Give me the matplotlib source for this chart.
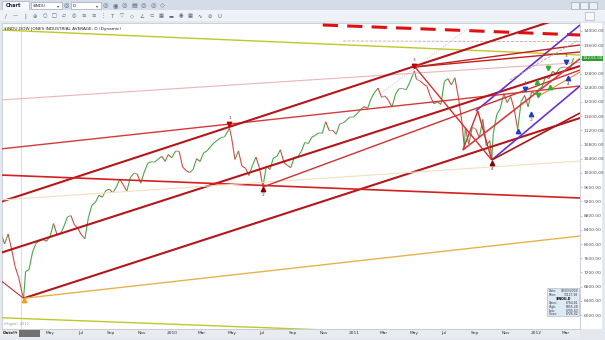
import datetime as dt
import matplotlib
matplotlib.use('Agg')
import matplotlib.pyplot as plt
import matplotlib.dates as mdates
from matplotlib.collections import LineCollection
from matplotlib.patches import Rectangle
import numpy as np
import pandas as pd

# weekly prices of $INDU (pivots use the bar extremes)
dates = [
    '2009-01-23', '2009-01-30', '2009-02-06', '2009-02-13', '2009-02-20', '2009-02-27', '2009-03-06',
    '2009-03-09', '2009-03-13', '2009-03-20', '2009-03-27', '2009-04-03', '2009-04-09', '2009-04-17',
    '2009-04-24', '2009-05-01', '2009-05-08', '2009-05-15', '2009-05-22', '2009-05-29', '2009-06-05',
    '2009-06-12', '2009-06-19', '2009-06-26', '2009-07-02', '2009-07-10', '2009-07-17', '2009-07-24',
    '2009-07-31', '2009-08-07', '2009-08-14', '2009-08-21', '2009-08-28', '2009-09-04', '2009-09-11',
    '2009-09-18', '2009-09-25', '2009-10-02', '2009-10-09', '2009-10-16', '2009-10-23', '2009-10-30',
    '2009-11-06', '2009-11-13', '2009-11-20', '2009-11-27', '2009-12-04', '2009-12-11', '2009-12-18',
    '2009-12-24', '2009-12-31',
    '2010-01-08', '2010-01-15', '2010-01-22', '2010-01-29', '2010-02-05', '2010-02-12', '2010-02-19',
    '2010-02-26', '2010-03-05', '2010-03-12', '2010-03-19', '2010-03-26', '2010-04-02', '2010-04-09',
    '2010-04-16', '2010-04-26', '2010-04-30', '2010-05-07', '2010-05-14', '2010-05-21', '2010-05-28',
    '2010-06-04', '2010-06-11', '2010-06-18', '2010-06-25', '2010-07-02', '2010-07-09', '2010-07-16',
    '2010-07-23', '2010-07-30', '2010-08-06', '2010-08-13', '2010-08-20', '2010-08-27', '2010-09-03',
    '2010-09-10', '2010-09-17', '2010-09-24', '2010-10-01', '2010-10-08', '2010-10-15', '2010-10-22',
    '2010-10-29', '2010-11-05', '2010-11-12', '2010-11-19', '2010-11-26', '2010-12-03', '2010-12-10',
    '2010-12-17', '2010-12-23', '2010-12-31',
    '2011-01-07', '2011-01-14', '2011-01-21', '2011-01-28', '2011-02-04', '2011-02-11', '2011-02-18',
    '2011-02-25', '2011-03-04', '2011-03-11', '2011-03-18', '2011-03-25', '2011-04-01', '2011-04-08',
    '2011-04-15', '2011-04-21', '2011-05-02', '2011-05-06', '2011-05-13', '2011-05-20', '2011-05-27',
    '2011-06-03', '2011-06-10', '2011-06-17', '2011-06-24', '2011-07-01', '2011-07-08', '2011-07-15',
    '2011-07-22', '2011-07-29', '2011-08-05', '2011-08-10', '2011-08-12', '2011-08-19', '2011-08-26',
    '2011-09-02', '2011-09-09', '2011-09-16', '2011-09-23', '2011-09-30', '2011-10-04', '2011-10-07',
    '2011-10-14', '2011-10-21', '2011-10-28', '2011-11-04', '2011-11-11', '2011-11-18', '2011-11-25',
    '2011-12-02', '2011-12-09', '2011-12-16', '2011-12-23', '2011-12-30',
    '2012-01-06', '2012-01-13', '2012-01-20', '2012-01-27', '2012-02-03', '2012-02-10', '2012-02-17',
    '2012-02-24', '2012-03-02', '2012-03-09', '2012-03-16',
]
prices = [
    8300, 8001, 8280, 7850, 7366, 7063, 6627,
    6470, 7224, 7278, 7776, 8018, 8083, 8131,
    8076, 8212, 8575, 8268, 8277, 8500, 8764,
    8799, 8539, 8438, 8280, 8146, 8743, 9093,
    9171, 9370, 9321, 9505, 9544, 9441, 9605,
    9820, 9665, 9487, 9864, 9995, 9972, 9712,
    10023, 10270, 10318, 10309, 10388, 10471, 10328,
    10520, 10428,
    10618, 10610, 10172, 10067, 10012, 10099, 10402,
    10325, 10566, 10625, 10742, 10850, 10927, 10997,
    11019, 11258, 11009, 10380, 10620, 10193, 10137,
    9931, 10211, 10450, 10144, 9614, 10198, 10097,
    10424, 10466, 10653, 10303, 10213, 10150, 10447,
    10462, 10607, 10860, 10829, 11006, 11062, 11132,
    11118, 11444, 11192, 11203, 11092, 11382, 11410,
    11491, 11573, 11577,
    11674, 11787, 11871, 11823, 12092, 12273, 12391,
    12130, 12169, 12044, 11858, 12220, 12376, 12380,
    12342, 12505, 12876, 12638, 12596, 12512, 12441,
    12151, 11952, 12004, 11934, 12582, 12657, 12479,
    12681, 12143, 11444, 10719, 11269, 10817, 11285,
    11240, 10992, 11509, 10771, 10913, 10404, 11103,
    11644, 11809, 12231, 11983, 12153, 11796, 11231,
    12019, 12184, 11866, 12294, 12218,
    12360, 12422, 12720, 12660, 12862, 12801, 12950,
    12983, 12977, 12922, 13233,
]

# drawn trend lines: start date, start value, end date, end value
line_start = ['2009-01-21', '2009-01-21', '2010-10-30', '2010-12-10', '2009-01-21', '2009-01-21',
              '2009-01-21', '2009-01-21', '2009-03-09', '2009-01-21', '2009-03-09', '2009-01-21',
              '2009-01-21', '2011-05-03', '2011-08-07', '2011-09-06', '2011-08-07', '2011-09-02',
              '2011-10-04', '2011-10-04', '2011-05-03', '2011-05-03', '2010-07-02', '2011-02-28',
              '2011-11-09', '2012-01-03']
line_v0 = [14028, 5924, 14169, 13718, 12056, 10676,
           9183, 7746, 6470, 9944, 6470, 9239,
           6986, 12986, 10648, 11746, 10648, 11746,
           10366, 10366, 12986, 12986, 9606, 12282,
           12620, 12141]
line_end = ['2012-03-29', '2012-03-29', '2012-03-29', '2012-03-29', '2012-03-29', '2012-03-29',
            '2012-03-29', '2012-03-29', '2012-03-29', '2012-03-29', '2012-03-29', '2012-03-29',
            '2009-03-09', '2011-10-04', '2011-09-06', '2011-10-04', '2012-03-29', '2012-03-29',
            '2012-03-29', '2012-03-29', '2012-03-29', '2012-03-29', '2012-03-29', '2011-08-21',
            '2012-03-26', '2012-03-29']
line_v1 = [13324, 5308, 13887, 13700, 13113, 12451,
           14535, 13014, 11549, 9296, 8225, 10338,
           6470, 10366, 11746, 10366, 13220, 14169,
           12451, 11690, 13606, 13409, 12901, 14113,
           13746, 12845]
line_color = ['#bfc72a', '#bfc72a', '#e01010', '#c9a3a3', '#eab5b5', '#d43a3a',
              '#b3161b', '#b3161b', '#b3161b', '#d42020', '#e6b34a', '#f1dfbf',
              '#c03030', '#d03030', '#d03030', '#d03030', '#d04040', '#6a32c8',
              '#6a32c8', '#a31a1a', '#c02020', '#c02020', '#d03030', '#d8a8a8',
              '#a8a8a8', '#f08040']
line_width = [1.0, 1.0, 2.2, 0.6, 0.8, 1.0,
              1.5, 1.5, 1.5, 1.2, 1.0, 0.8,
              0.8, 1.0, 1.0, 1.0, 1.2, 1.2,
              1.2, 1.2, 1.0, 1.0, 1.0, 0.6,
              0.6, 0.8]
line_style = ['-', '-', (0, (5, 3)), '--', '-', '-',
              '-', '-', '-', '-', '-', '-',
              '-', '-', '-', '-', '-', '-',
              '-', '-', '-', '-', '-', ':',
              '--', '-']

# wave markers
marker_dates = ['2010-04-26', '2010-07-02', '2011-05-02', '2011-10-04', '2009-03-09',
                '2011-12-10', '2011-12-22', '2012-03-01', '2012-03-05', '2011-11-26',
                '2012-01-25', '2012-01-03', '2012-01-29', '2012-01-05']
marker_values = [11380, 9550, 13000, 10282, 6420,
                 12366, 11662, 13127, 12676, 11183,
                 12958, 12563, 12423, 12197]
marker_labels = ['1', '2', '3', '4', '', '1', '2', '3', '4', '', '', '', '', '']
marker_kind = ['v', '^', 'v', '^', '^', 'v', '^', 'v', '^', '^', 'v', '^', '^', 'v']
marker_color = ['#c40000', '#8a0000', '#c40000', '#8a0000', '#e8a020',
                '#2040c0', '#2040c0', '#2040c0', '#2040c0', '#2040c0',
                '#30b030', '#30b030', '#30b030', '#30b030']

month_ticks = pd.date_range('2009-05-01', '2012-03-01', freq='2MS')
y_ticks = list(range(6000, 14001, 400))

W, H = 605, 340
fig = plt.figure(figsize=(W / 100, H / 100), dpi=100)
fig.patch.set_facecolor('#e3e8ee')


def box(x, y, w, h, z=-1, **kw):
    fig.patches.append(Rectangle((x / W, 1 - (y + h) / H), w / W, h / H,
                                 transform=fig.transFigure, zorder=z, **kw))


def ftext(x, y, s, **kw):
    kw.setdefault('va', 'center')
    fig.text(x / W, 1 - y / H, s, **kw)


# window chrome
box(0, 0, W, 10, facecolor='#d3dce7', edgecolor='none')
box(2, 1, 27, 9, facecolor='#f5f7fa', edgecolor='#98a6b8', lw=0.4)
ftext(6, 5.5, 'Chart', fontsize=3.6, weight='bold', color='#223')
box(31, 2, 31, 7, facecolor='white', edgecolor='#8a9ab0', lw=0.4)
ftext(33, 5.6, '$INDU', fontsize=3, color='#222')
ftext(57, 5.6, '▾', fontsize=3, color='#444')
ftext(64, 5.6, '◎', fontsize=4.5, color='#55657a')
box(71, 2, 30, 7, facecolor='white', edgecolor='#8a9ab0', lw=0.4)
ftext(73, 5.6, 'D', fontsize=3, color='#222')
ftext(96, 5.6, '▾', fontsize=3, color='#444')
for i, s in enumerate(['◎', '◉', '◎', '▤', '◎', '◎', '◇']):
    ftext(103 + i * 9.5, 5.6, s, fontsize=4.5, color='#5a6a88')
for i in range(3):
    box(571 + i * 9, 2, 8, 7, facecolor='#eef1f4', edgecolor='#8a9ab0', lw=0.4)
box(0, 10, W, 11, facecolor='#eef1f5', edgecolor='none')
tools = ['/', '—', '|', '⊕', '○', '□', '▱', '◎', '≡', '≡', '⋮', 'T', '▽', '◇',
         '∠', '⊂', '▦', '▬', '◉', '▦', '∿', '⊘', 'U']
for i, s in enumerate(tools):
    ftext(6 + i * 9.7, 16, s, fontsize=3.8, color='#5a6678', ha='center')
box(585, 12, 9, 8, facecolor='#f7f8fa', edgecolor='#9aa6b4', lw=0.4)
box(580, 23, 22, 306, facecolor='white', edgecolor='none')
box(0, 329, 580, 9, facecolor='#e8ecf1', edgecolor='none')

ax = fig.add_axes([2 / W, 1 - 329 / H, 578 / W, 306 / H])
ax.set_facecolor('white')
base = mdates.date2num(dt.datetime(2009, 5, 1))
ax.set_xlim(base + (2 - 50) / 0.4986, base + (580 - 50) / 0.4986)
ax.set_ylim(5606, 14225)

# price line, green when rising, red when falling
xs = mdates.date2num(pd.to_datetime(dates))
ys = np.array(prices, dtype=float)
segs = np.stack([np.column_stack([xs[:-1], ys[:-1]]), np.column_stack([xs[1:], ys[1:]])], axis=1)
chg = np.diff(ys) / ys[:-1]
cols = ['#46a846' if c > 0.004 else '#d24a4a' if c < -0.004 else '#9a9a9a' for c in chg]
ax.add_collection(LineCollection(segs, colors=cols, linewidths=0.8, zorder=2))

ax.axvline(mdates.date2num(dt.datetime(2009, 3, 3)), color='#cfcfcf', lw=0.5, zorder=1)

for s, v0, e, v1, c, lw, ls in zip(line_start, line_v0, line_end, line_v1,
                                   line_color, line_width, line_style):
    ax.plot(pd.to_datetime([s, e]), [v0, v1], color=c, lw=lw, ls=ls, zorder=3,
            solid_capstyle='butt')

for d, v, lab, k, c in zip(marker_dates, marker_values, marker_labels, marker_kind, marker_color):
    ax.plot(pd.to_datetime([d]), [v], marker=k, ms=3.2, color=c, mec=c, zorder=4, ls='none')
    if lab:
        off = 4.5 if k == 'v' else -4.5
        ax.annotate(lab, (pd.to_datetime(d), v), xytext=(0, off), textcoords='offset points',
                    ha='center', va='center', fontsize=3.2, color='#444', zorder=4)

ax.text(0.004, 0.981, '$INDU,DOW JONES INDUSTRIAL AVERAGE, D (Dynamic)', transform=ax.transAxes,
        fontsize=3.1, color='#222', va='center')
ax.text(0.004, 0.012, 'eSignal, 2012', transform=ax.transAxes, fontsize=2.6, color='#999')

# axes; the last-price tag sits where the 13200 label would be
last = prices[-1]
ax.yaxis.tick_right()
ax.set_yticks(y_ticks)
ax.set_yticklabels(['' if abs(v - last) < 200 else f'{v:.2f}' for v in y_ticks])
ax.tick_params(axis='y', length=1.5, width=0.4, pad=1.2, labelsize=3.2, labelcolor='#555',
               color='#999')
ax.set_xticks(mdates.date2num(month_ticks))
ax.set_xticklabels([str(d.year) if d.month == 1 else d.strftime('%b') for d in month_ticks])
ax.tick_params(axis='x', length=0, pad=1.6, labelsize=3.2, labelcolor='#333')
for sp in ax.spines.values():
    sp.set_color('#b8c0ca')
    sp.set_linewidth(0.5)

ax.text(1.004, last, f'{last:.2f}', transform=ax.get_yaxis_transform(), fontsize=3.1,
        color='white', va='center', clip_on=False,
        bbox=dict(boxstyle='square,pad=0.15', fc='#2e9d2e', ec='none'))

# date strip
ftext(3, 333.5, 'Date', fontsize=3.1, color='#333', weight='bold')
ftext(13, 333.5, 'Mr', fontsize=3.1, color='#333')
box(19, 330, 21, 7, z=5, facecolor='#707070', edgecolor='none')
ftext(29.5, 333.5, '03/03/2009', fontsize=2.8, color='white', ha='center')

# data window
box(547, 288, 32, 28, z=5, facecolor='#dde9f5', edgecolor='#9fb3c8', lw=0.4)
info = [('Date:', '03/03/2009'), ('Price:', '13127.38'), ('', '$INDU,D'), ('Open:', '6764.81'),
        ('High:', '6855.28'), ('Low:', '6705.63'), ('Close:', '6726.02')]
for i, (k, v) in enumerate(info):
    yy = 291 + i * 3.9
    if k:
        ftext(548.5, yy, k, fontsize=2.2, color='#333', zorder=6)
        ftext(578, yy, v, fontsize=2.2, color='#333', ha='right', zorder=6)
    else:
        ftext(563, yy, v, fontsize=2.4, color='#111', ha='center', weight='bold', zorder=6)

fig.savefig('out.png', dpi=100)
